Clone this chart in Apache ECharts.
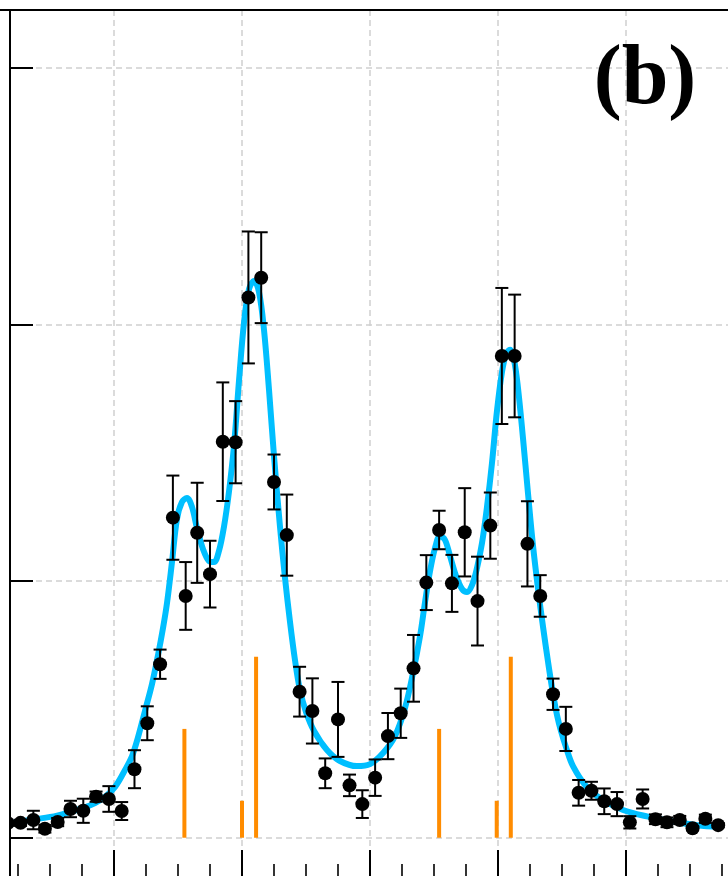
<!DOCTYPE html>
<html>
<head>
<meta charset="utf-8">
<script src="https://cdn.jsdelivr.net/npm/echarts@6/dist/echarts.min.js"></script>
<style>
  html, body { margin: 0; padding: 0; background: #ffffff; }
  #chart { width: 728px; height: 876px; }
</style>
</head>
<body>
<div id="chart"></div>
<script>
// Measured spectrum: positions, intensities and 1-sigma errors
const xValues = [0.17, 0.27, 0.37, 0.46, 0.56, 0.66, 0.76, 0.86, 0.96, 1.06, 1.16, 1.26, 1.36, 1.46,
  1.56, 1.65, 1.75, 1.85, 1.95, 2.05, 2.15, 2.25, 2.35, 2.45, 2.55, 2.65, 2.75, 2.84, 2.94, 3.04,
  3.14, 3.24, 3.34, 3.44, 3.54, 3.64, 3.74, 3.84, 3.94, 4.03, 4.13, 4.23, 4.33, 4.43, 4.53, 4.63,
  4.73, 4.83, 4.93, 5.03, 5.13, 5.23, 5.32, 5.42, 5.52, 5.62, 5.72];
const yValues = [0.057, 0.058, 0.069, 0.035, 0.061, 0.112, 0.105, 0.160, 0.151, 0.104, 0.267, 0.446,
  0.676, 1.247, 0.942, 1.188, 1.027, 1.543, 1.541, 2.105, 2.182, 1.386, 1.179, 0.569, 0.494, 0.251,
  0.461, 0.204, 0.131, 0.234, 0.396, 0.485, 0.660, 0.994, 1.199, 0.991, 1.190, 0.922, 1.216, 1.877,
  1.877, 1.145, 0.942, 0.559, 0.424, 0.175, 0.183, 0.142, 0.131, 0.060, 0.151, 0.072, 0.060, 0.069,
  0.037, 0.074, 0.049];
const yErrors = [0.010, 0.012, 0.036, 0.015, 0.016, 0.032, 0.047, 0.020, 0.050, 0.035, 0.074, 0.066,
  0.057, 0.164, 0.132, 0.195, 0.130, 0.231, 0.160, 0.257, 0.177, 0.107, 0.158, 0.097, 0.127, 0.058,
  0.146, 0.042, 0.054, 0.071, 0.090, 0.096, 0.130, 0.107, 0.075, 0.111, 0.172, 0.173, 0.129, 0.265,
  0.239, 0.166, 0.081, 0.061, 0.086, 0.050, 0.035, 0.050, 0.047, 0.024, 0.037, 0.019, 0.019, 0.016,
  0.008, 0.016, 0.008];

// Fitted line shape
const fitX = [0.16, 0.367, 0.555, 0.758, 0.852, 0.930, 1.008, 1.086, 1.141, 1.188, 1.242, 1.297,
  1.344, 1.383, 1.414, 1.453, 1.492, 1.531, 1.570, 1.609, 1.648, 1.695, 1.742, 1.781, 1.820, 1.859,
  1.898, 1.938, 1.977, 2.016, 2.055, 2.094, 2.133, 2.172, 2.211, 2.250, 2.297, 2.336, 2.375, 2.414,
  2.453, 2.500, 2.563, 2.664, 2.766, 2.898, 3.000, 3.102, 3.195, 3.273, 3.336, 3.391, 3.430, 3.469,
  3.508, 3.547, 3.586, 3.625, 3.672, 3.719, 3.758, 3.797, 3.836, 3.875, 3.914, 3.953, 3.992, 4.031,
  4.063, 4.094, 4.125, 4.156, 4.195, 4.234, 4.273, 4.313, 4.352, 4.391, 4.430, 4.461, 4.492, 4.531,
  4.586, 4.695, 4.820, 4.977, 5.164, 5.367, 5.555, 5.734];
const fitY = [0.055, 0.071, 0.086, 0.116, 0.135, 0.159, 0.198, 0.264, 0.318, 0.392, 0.494, 0.599,
  0.712, 0.817, 0.914, 1.074, 1.242, 1.308, 1.324, 1.289, 1.207, 1.125, 1.078, 1.074, 1.117, 1.211,
  1.347, 1.530, 1.783, 2.009, 2.138, 2.169, 2.126, 1.978, 1.745, 1.487, 1.211, 1.012, 0.841, 0.692,
  0.575, 0.490, 0.416, 0.342, 0.299, 0.279, 0.287, 0.330, 0.396, 0.505, 0.642, 0.786, 0.918, 1.039,
  1.129, 1.176, 1.160, 1.098, 1.020, 0.969, 0.957, 0.984, 1.051, 1.148, 1.289, 1.460, 1.663, 1.814,
  1.885, 1.901, 1.862, 1.753, 1.558, 1.344, 1.140, 0.969, 0.821, 0.685, 0.560, 0.478, 0.416, 0.353,
  0.279, 0.197, 0.147, 0.108, 0.083, 0.063, 0.049, 0.042];

// Transition lines (stick spectrum)
const stickX = [1.55, 2.00, 2.11, 3.54, 3.99, 4.10];
const stickHeight = [0.424, 0.144, 0.705, 0.424, 0.144, 0.705];

const panelLabel = '(b)';

const X_MIN = 0, X_MAX = 6;
const Y_MIN = -1, Y_MAX = 3.2249;

const gridStyle = { color: '#d0d0d0', width: 1.5, type: [6, 4] };

const points = xValues.map((x, i) => [x, yValues[i]]);
const errBars = xValues.map((x, i) => [x, yValues[i], yErrors[i]]);
const fitLine = fitX.map((x, i) => [x, fitY[i]]);
const sticks = stickX.map((x, i) => [x, stickHeight[i]]);

const chart = echarts.init(document.getElementById('chart'), null, { renderer: 'canvas' });

chart.setOption({
  animation: false,
  backgroundColor: '#ffffff',
  // the frame extends past the visible area on the left, right and bottom
  grid: {
    left: -14, right: -26, top: 10, bottom: -218.4,
    containLabel: false, outerBoundsMode: 'none'
  },
  xAxis: [
    {
      type: 'value', position: 'bottom', min: X_MIN, max: X_MAX, interval: 1,
      offset: -214.4,
      axisLine: { show: true, onZero: false, lineStyle: { color: '#000', width: 2 } },
      axisTick: { show: true, inside: true, length: 30, lineStyle: { color: '#000', width: 2 } },
      minorTick: { show: true, splitNumber: 4, length: 16, lineStyle: { color: '#000', width: 1.6 } },
      axisLabel: { show: false },
      splitLine: { show: true, lineStyle: gridStyle },
      minorSplitLine: { show: false }
    },
    {
      type: 'value', position: 'top', min: X_MIN, max: X_MAX, interval: 1, z: 60,
      axisLine: { show: true, onZero: false, lineStyle: { color: '#000', width: 2 } },
      axisTick: { show: false }, axisLabel: { show: false }, splitLine: { show: false }
    }
  ],
  yAxis: [
    {
      type: 'value', position: 'left', min: Y_MIN, max: Y_MAX, interval: 1, offset: -24,
      axisLine: { show: false, onZero: false },
      axisTick: { show: false }, axisLabel: { show: false },
      splitLine: { show: true, lineStyle: gridStyle }
    },
    {
      type: 'value', position: 'left', min: Y_MIN, max: Y_MAX, interval: 1, offset: -24, z: 60,
      axisLine: { show: true, onZero: false, lineStyle: { color: '#000', width: 2 } },
      axisTick: { show: true, inside: true, length: 23, lineStyle: { color: '#000', width: 2 } },
      axisLabel: { show: false }, splitLine: { show: false }
    }
  ],
  graphic: [
    { type: 'rect', z: 50, shape: { x: 0, y: 0, width: 9, height: 876 }, style: { fill: '#ffffff' } },
    {
      type: 'text', z: 70,
      style: {
        text: panelLabel, x: 645, y: 81, align: 'center', verticalAlign: 'middle',
        font: 'bold 84px "Liberation Serif", "DejaVu Serif", serif', fill: '#000'
      }
    }
  ],
  series: [
    {
      name: 'sticks', type: 'custom', xAxisIndex: 0, yAxisIndex: 0, z: 2,
      data: sticks,
      renderItem: function (params, api) {
        const base = api.coord([api.value(0), 0]);
        const top = api.coord([api.value(0), api.value(1)]);
        return {
          type: 'rect',
          shape: { x: base[0] - 2, y: top[1], width: 4, height: base[1] - top[1] },
          style: { fill: '#ff8c00' }
        };
      }
    },
    {
      name: 'fit', type: 'line', xAxisIndex: 0, yAxisIndex: 0, z: 3,
      data: fitLine, showSymbol: false, smooth: 0.35,
      lineStyle: { color: '#00bfff', width: 6, cap: 'round', join: 'round' }
    },
    {
      name: 'errors', type: 'custom', xAxisIndex: 0, yAxisIndex: 0, z: 4,
      data: errBars,
      renderItem: function (params, api) {
        const x = api.value(0), y = api.value(1), e = api.value(2);
        const hi = api.coord([x, y + e]);
        const lo = api.coord([x, y - e]);
        const cap = 6.5;
        const st = { stroke: '#000', lineWidth: 2 };
        return {
          type: 'group',
          children: [
            { type: 'line', shape: { x1: hi[0], y1: hi[1], x2: lo[0], y2: lo[1] }, style: st },
            { type: 'line', shape: { x1: hi[0] - cap, y1: hi[1], x2: hi[0] + cap, y2: hi[1] }, style: st },
            { type: 'line', shape: { x1: lo[0] - cap, y1: lo[1], x2: lo[0] + cap, y2: lo[1] }, style: st }
          ]
        };
      }
    },
    {
      name: 'data', type: 'scatter', xAxisIndex: 0, yAxisIndex: 0, z: 5,
      data: points, symbol: 'circle', symbolSize: 14,
      itemStyle: { color: '#000', opacity: 1 }
    }
  ]
});
</script>
</body>
</html>
